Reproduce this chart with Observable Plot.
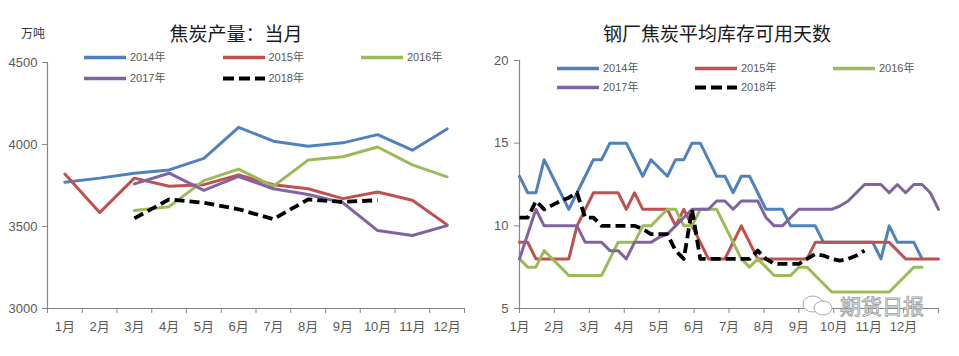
<!DOCTYPE html>
<html><head><meta charset="utf-8">
<script src="https://cdn.jsdelivr.net/npm/d3@7"></script>
<script src="https://cdn.jsdelivr.net/npm/@observablehq/plot@0.6"></script>
<style>
body{margin:0;background:#fff;}
#wrap{position:relative;width:959px;height:356px;overflow:hidden;background:#fff;font-family:"Liberation Sans","Noto Sans CJK SC",sans-serif;}
#wrap svg.chart{position:absolute;top:0;}
.ctr{position:absolute;transform:translate(-50%,-50%);white-space:nowrap;line-height:1;}
.title{font-family:"Noto Sans CJK SC",sans-serif;font-size:19px;color:#1a1a1a;}
.leg{position:absolute;display:flex;align-items:center;font-size:11px;color:#595959;white-space:nowrap;line-height:1;transform:translateY(-50%);}
.leg svg{margin-right:4px;}
.wm{font-family:"Noto Sans CJK SC",sans-serif;font-size:21px;color:#fff;-webkit-text-stroke:1px #a8a8a8;}
</style></head><body><div id="wrap"></div>
<script>
// ---------- Data: left chart (焦炭产量：当月, 万吨) ----------
const months = ["1月","2月","3月","4月","5月","6月","7月","8月","9月","10月","11月","12月"];
const prod2014 = [3770, 3795, 3825, 3845, 3915, 4105, 4020, 3990, 4010, 4060, 3965, 4095];
const prod2015 = [3820, 3585, 3795, 3745, 3755, 3815, 3755, 3730, 3670, 3710, 3660, 3510];
const prod2016 = [null, null, 3597, 3621, 3780, 3850, 3745, 3905, 3925, 3985, 3876, 3803];
const prod2017 = [null, null, 3760, 3825, 3720, 3805, 3730, 3695, 3645, 3475, 3445, 3505];
const prod2018 = [null, null, 3550, 3665, 3645, 3605, 3545, 3665, 3650, 3660, null, null];
const prodTicks = [3000, 3500, 4000, 4500];

// ---------- Data: right chart (钢厂焦炭平均库存可用天数, weekly) ----------
const days2014 = [13,12,12,14,13,12,11,12,13,14, 14,15,15,15,14,13,14,13.5,13,14, 14,15,15,14,13,13,12,13,13,12, 11,11,11,10,10,10,10,9,9,9, 9,9,9,9,8,10,9,9,9,8, null,null];
const days2015 = [9,9,8,8,8,8,8,10,11,12, 12,12,12,11,12,11,11,11,11,10, 11,10,9,8,8,8,9,10,9,8, 8,8,8,8,8,8,9,9,9,9, 9,9,9,9,9,9,8.5,8,8,8, 8,8];
const days2016 = [8,7.5,7.5,8.5,8,7.5,7,7,7,7, 7,8,9,9,9,10,10,10.5,11,11, 10,10,11,11,11,10,9,8,7.5,8, 7.5,7,7,7,7.5,7.5,7,6.5,6,6, 6,6,6,6,6,6,6.5,7,7.5,7.5, null,null];
const days2017 = [8,9.5,11,10,10,10,10,10,9,9, 9,8.5,8.5,8,9,9,9,9.3,9.5,10, 10.5,11,11,11,11.5,11.5,11,11.5,11.5,11.5, 10.5,10,10,10.5,11,11,11,11,11,11.2, 11.5,12,12.5,12.5,12.5,12,12.5,12,12.5,12.5, 12,11];
const days2018 = [10.5,10.5,11.5,11,11.25,11.5,11.7,12,10.5,10.5, 10,10,10,10,10,9.8,9.5,9.5,9.5,8.5, 8,11,8,8,8,8,8,8,8,8.5, 8,7.7,7.7,7.7,7.7,8,8.3,8.2,8,7.9, 8,8.2,8.5, null,null,null,null,null,null,null,null,null];
const dayTicks = [5, 10, 15, 20];
const weeksPerYear = 51;

const seriesNames = ["2014年","2015年","2016年","2017年","2018年"];
const colors = ["#4F81BD","#C0504D","#9BBB59","#8064A2","#000000"];

const axisGray = "#868686";
const font = '"Liberation Sans Narrow","Liberation Sans","Noto Sans CJK SC",sans-serif';

function lineMarks(seriesVals, xOf) {
  return seriesVals.map((vals, s) => {
    const rows = vals.map((v, i) => ({x: xOf(i), y: v == null ? NaN : v}));
    const dashed = s === 4;
    return Plot.line(rows, {x: "x", y: "y", stroke: colors[s],
      strokeWidth: dashed ? 3.8 : 3, strokeDasharray: dashed ? "10,5" : null,
      strokeLinejoin: "round", strokeLinecap: dashed ? "butt" : "round"});
  });
}

// ---------- Left chart ----------
const monthIdx = months.map((m, i) => i + 1);
const monthBounds = d3.range(0, 13).map(i => i + 0.5);
const leftX = [0.5, 12.5];
const leftY = [prodTicks[0], prodTicks[prodTicks.length - 1]];
const left = Plot.plot({
  width: 480, height: 356,
  marginTop: 62, marginBottom: 48, marginLeft: 47, marginRight: 16,
  style: {fontFamily: font, fontSize: "13px", color: "#595959", background: "transparent", overflow: "visible"},
  x: {type: "linear", domain: leftX},
  y: {domain: leftY},
  marks: [
    Plot.ruleX([leftX[0]], {stroke: axisGray, strokeWidth: 1.2}),
    Plot.ruleY([leftY[0]], {stroke: axisGray, strokeWidth: 1.2}),
    Plot.axisY({ticks: prodTicks, tickSize: 5, tickPadding: 5, label: null, stroke: axisGray, tickFormat: d => String(d)}),
    Plot.axisX({ticks: monthBounds, tickSize: 5, tickFormat: () => "", label: null, stroke: axisGray}),
    Plot.axisX({ticks: monthIdx, tickSize: 0, tickPadding: 13, label: null, tickFormat: i => months[i - 1]}),
    ...lineMarks([prod2014, prod2015, prod2016, prod2017, prod2018], i => i + 1)
  ]
});
left.classList.add("chart");
left.style.left = "0px";

// ---------- Right chart ----------
const monthStarts = d3.range(0, 13).map(m => m * weeksPerYear / 12);
const rightX = [0, weeksPerYear];
const rightY = [dayTicks[0], dayTicks[dayTicks.length - 1]];
const right = Plot.plot({
  width: 479, height: 356,
  marginTop: 60, marginBottom: 48, marginLeft: 39, marginRight: 21,
  style: {fontFamily: font, fontSize: "13px", color: "#595959", background: "transparent", overflow: "visible"},
  x: {type: "linear", domain: rightX},
  y: {domain: rightY},
  marks: [
    Plot.ruleX([rightX[0]], {stroke: axisGray, strokeWidth: 1.2}),
    Plot.ruleY([rightY[0]], {stroke: axisGray, strokeWidth: 1.2}),
    Plot.axisY({ticks: dayTicks, tickSize: 5, tickPadding: 6, label: null, stroke: axisGray}),
    Plot.axisX({ticks: monthStarts, tickSize: 5, tickFormat: () => "", label: null, stroke: axisGray}),
    Plot.axisX({ticks: monthStarts.slice(0, 12), tickSize: 0, tickPadding: 13, label: null,
      tickFormat: d => months[Math.round(d * 12 / weeksPerYear)]}),
    ...lineMarks([days2014, days2015, days2016, days2017, days2018], i => i)
  ]
});
right.classList.add("chart");
right.style.left = "480px";

const wrap = document.getElementById("wrap");
wrap.appendChild(left);
wrap.appendChild(right);

// ---------- Titles, unit, legends ----------
function addText(cls, text, x, y) {
  const d = document.createElement("div");
  d.className = cls; d.textContent = text;
  d.style.left = x + "px"; d.style.top = y + "px";
  wrap.appendChild(d);
}
addText("ctr title", "焦炭产量：当月", 236, 32);
addText("ctr title", "钢厂焦炭平均库存可用天数", 717, 32);
addText("ctr", "万吨", 33, 33);
wrap.lastChild.style.fontSize = "12px";
wrap.lastChild.style.fontFamily = '"Noto Sans CJK SC",sans-serif';
wrap.lastChild.style.color = "#333";

function addLegend(x0, rows, dx) {
  seriesNames.forEach((name, s) => {
    const col = s % 3, row = Math.floor(s / 3);
    const d = document.createElement("div");
    d.className = "leg";
    d.style.left = (x0 + col * dx) + "px";
    d.style.top = rows[row] + "px";
    const dashed = s === 4;
    d.innerHTML = `<svg width="42" height="6"><line x1="0" x2="42" y1="3" y2="3" stroke="${colors[s]}" stroke-width="${dashed ? 4 : 3.5}" ${dashed ? 'stroke-dasharray="11,5"' : 'stroke-linecap="round"'}/></svg><span>${name}</span>`;
    wrap.appendChild(d);
  });
}
addLegend(84, [57, 78], 138.5);
addLegend(557, [68, 87], 138);

// watermark
addText("ctr wm", "期货日报", 882, 305);
const icon = document.createElement("div");
icon.style.cssText = "position:absolute;left:801px;top:295px;width:34px;height:22px;";
icon.innerHTML = '<svg width="34" height="22"><ellipse cx="12" cy="9" rx="10" ry="8" fill="#fff" stroke="#aaa" stroke-width="1"/><ellipse cx="22" cy="13" rx="9" ry="7" fill="#fff" stroke="#aaa" stroke-width="1"/></svg>';
wrap.appendChild(icon);
</script></body></html>
